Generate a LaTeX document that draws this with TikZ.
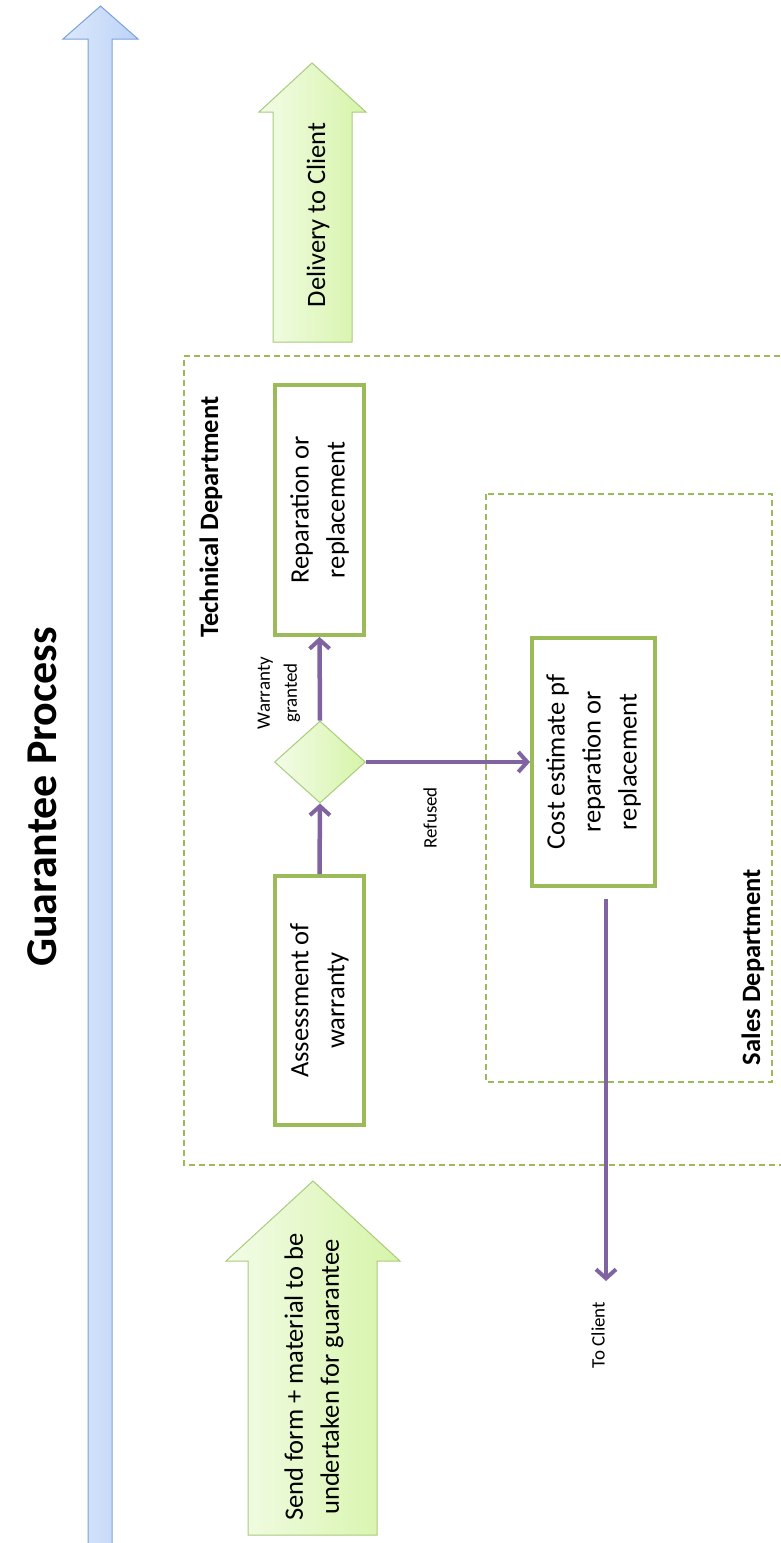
\documentclass[tikz,border=0pt]{standalone}
\usepackage{fontspec}
\setmainfont{Carlito}
\usetikzlibrary{shapes.geometric,arrows.meta}
\definecolor{boxgreen}{HTML}{9BBB59}
\definecolor{flowpurple}{HTML}{8064A2}
\definecolor{arrowline}{HTML}{A9CB7C}
\definecolor{greenlight}{HTML}{F3FCE8}
\definecolor{greendark}{HTML}{D6F4A8}
\definecolor{bluelight}{HTML}{DCE8FB}
\definecolor{bluedark}{HTML}{BCD3F7}
\definecolor{blueline}{HTML}{7BA1DB}
\tikzset{
  stepbox/.style={draw=boxgreen, line width=4pt, fill=white, inner sep=0pt},
  deptbox/.style={draw=boxgreen, line width=1.2pt, dash pattern=on 6pt off 4pt},
  bigarrow/.style={draw=arrowline, line width=1pt, left color=greenlight, right color=greendark},
  timearrow/.style={draw=blueline, line width=1pt, left color=bluelight, right color=bluedark},
  decision/.style={diamond, draw=arrowline, line width=1pt, left color=greenlight, right color=greendark, inner sep=0pt},
  flow/.style={draw=flowpurple, line width=4.5pt, -{Straight Barb[length=9pt,width=20pt,line width=4pt]}},
  maintext/.style={rotate=90, align=center, font=\fontsize{26.5}{36}\selectfont},
  smalltext/.style={rotate=90, align=center, font=\fontsize{19}{27}\selectfont},
  depttext/.style={rotate=90, font=\bfseries\fontsize{26.5}{30}\selectfont},
}
\begin{document}
\begin{tikzpicture}[x=1pt, y=-1pt]
\path[use as bounding box] (0,0) rectangle (781,1543);
% time arrow
\path[timearrow] (88,1560) -- (88,39) -- (63,39) -- (100.5,6) -- (138,39) -- (112,39) -- (112,1560) -- cycle;
\node[rotate=90, font=\bfseries\fontsize{44}{50}\selectfont] (title) at (42,797) {Guarantee Process};
% department boxes
\draw[deptbox] (800,356) -- (184,356) -- (184,1165) -- (800,1165);
\draw[deptbox] (486,494) rectangle (772,1082);
\node[depttext] (techlabel) at (211,517) {Technical Department};
\node[depttext] (saleslabel) at (753,967) {Sales Department};
% input / output arrows
\path[bigarrow] (248,1535) -- (248,1261) -- (226,1261) -- (313,1181) -- (400,1261) -- (377,1261) -- (377,1535) -- cycle;
\node[maintext] (send) at (314,1377) {Send form + material to be\\undertaken for guarantee};
\path[bigarrow] (273,342) -- (273,112) -- (259,112) -- (312,63) -- (366,112) -- (352,112) -- (352,342) -- cycle;
\node[maintext] (delivery) at (318,215) {Delivery to Client};
% process steps
\node[stepbox, minimum width=89pt, minimum height=250pt] (rep) at (319.5,510) {};
\node[maintext] at (rep) {Reparation or\\replacement};
\node[stepbox, minimum width=89pt, minimum height=249pt] (assess) at (319.5,1000.5) {};
\node[maintext] at (assess) {Assessment of\\warranty};
\node[stepbox, minimum width=123pt, minimum height=248pt] (cost) at (593.5,762) {};
\node[maintext] at (cost) {Cost estimate pf\\reparation or\\replacement};
\node[decision, minimum width=91pt, minimum height=82pt] (dec) at (320,762) {};
% connectors
\draw[flow] (assess.north) -- (dec.south);
\draw[flow] (dec.north) -- (rep.south);
\draw[flow] (dec.east) -- (cost.west);
\coordinate (client) at (606,1281);
\draw[flow] ([xshift=12.5pt,yshift=-11pt]cost.south) -- (client);
% labels
\node[smalltext] (granted) at (279,693) {Warranty\\granted};
\node[smalltext] (refused) at (430,818) {Refused};
\node[smalltext] (toclient) at (598,1335) {To Client};
\end{tikzpicture}
\end{document}
